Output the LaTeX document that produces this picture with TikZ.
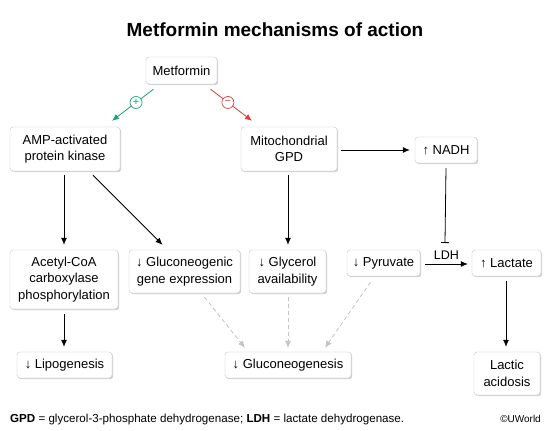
\documentclass[tikz,border=0pt]{standalone}
\usepackage{fontspec}
\setmainfont{Liberation Sans}
\usetikzlibrary{arrows.meta,shadows,calc}
\definecolor{posgreen}{HTML}{17A673}
\definecolor{negred}{HTML}{E8373E}
\definecolor{dashgray}{HTML}{C4C4C4}
\begin{document}
\begin{tikzpicture}[x=1pt,y=-1pt,
  box/.style={draw=gray!45, fill=white, rounded corners=3pt, align=center, inner sep=1pt,
    font=\fontsize{13}{16.3}\selectfont,
    drop shadow={shadow xshift=1.2pt, shadow yshift=-1.2pt, opacity=0.35, fill=gray}},
  arr/.style={-{Latex[length=7pt,width=6pt]}, line width=0.8pt, black},
  grayarr/.style={-{Latex[length=7pt,width=6pt]}, dashgray, dashed, dash pattern=on 4pt off 3pt, line width=0.8pt},
  sign/.style={circle, fill=white, draw, line width=0.7pt, inner sep=0pt, minimum size=12pt, font=\fontsize{11}{11}\selectfont}]
\useasboundingbox[fill=white] (0,0) rectangle (550,431);
\node[font=\bfseries\fontsize{19}{22}\selectfont] (title) at (275,30) {Metformin mechanisms of action};

\node[box, minimum width=71pt, minimum height=27pt] (met) at (181.5,70.5) {Metformin};
\node[box, minimum width=110pt, minimum height=44pt] (ampk) at (65,149) {AMP-activated\\protein kinase};
\node[box, minimum width=96pt, minimum height=44pt] (gpd) at (289,149) {Mitochondrial\\GPD};
\node[box, minimum width=62pt, minimum height=26pt] (nadh) at (446,150) {↑ NADH};
\node[box, minimum width=108pt, minimum height=59pt] (acc) at (64,279.5) {Acetyl-CoA\\carboxylase\\phosphorylation};
\node[box, minimum width=111pt, minimum height=43pt] (gene) at (184.5,271.5) {↓ Gluconeogenic\\gene expression};
\node[box, minimum width=77pt, minimum height=43pt] (gly) at (287.5,271.5) {↓ Glycerol\\availability};
\node[box, minimum width=73pt, minimum height=26pt] (pyr) at (383.5,263) {↓ Pyruvate};
\node[box, minimum width=69pt, minimum height=26pt] (lac) at (506.5,263) {↑ Lactate};
\node[box, minimum width=95pt, minimum height=26pt] (lip) at (64.5,365) {↓ Lipogenesis};
\node[box, minimum width=126pt, minimum height=26pt] (glu) at (288,365) {↓ Gluconeogenesis};
\node[box, minimum width=66pt, minimum height=43pt] (aci) at (507,373.5) {Lactic\\acidosis};

% Metformin effects
\draw[arr, posgreen] ($(met.south)+(-28,5)$) -- ($(ampk.north)+(47,-6)$)
  node[sign, draw=posgreen, text=posgreen, pos=0.42] {+};
\draw[arr, negred] ($(met.south)+(29,5)$) -- ($(gpd.north)+(-37,-6)$)
  node[sign, draw=negred, text=negred, pos=0.42] {−};

% black arrows
\draw[arr] ($(ampk.south)+(-1,4)$) -- ($(acc.north)+(0,-5)$);
\draw[arr] ($(ampk.south)+(28,4)$) -- ($(gene.north)+(-22,-5)$);
\draw[arr] ($(gpd.south)+(-1,4)$) -- ($(gly.north)+(0.5,-5)$);
\draw[arr] ($(gpd.east)+(4,1)$) -- ($(nadh.west)+(-5,0)$);
\draw[arr] ($(acc.south)+(0,5)$) -- ($(lip.north)+(-0.5,-5)$);
\draw[arr] ($(pyr.east)+(5,1)$) -- node[above=1pt, font=\fontsize{12.5}{14}\selectfont] (ldh) {LDH} ($(lac.west)+(-4,1)$);
\draw[arr] ($(lac.south)+(-0.5,5)$) -- ($(aci.north)+(-1,-5)$);
\draw[-{Bar[width=8pt]}, line width=0.8pt] ($(nadh.south)+(0,5)$) -- ($(pyr.east)!0.5!(lac.west)+(-1,-20)$);

% dashed gray arrows
\draw[grayarr] ($(gene.south)+(20,4)$) -- ($(glu.north)+(-43,-4)$);
\draw[grayarr] ($(gly.south)+(0.5,4)$) -- ($(glu.north)+(0,-4)$);
\draw[grayarr] ($(pyr.south)+(-13,6)$) -- ($(glu.north)+(37,-4)$);

% footer
\node[anchor=west, font=\fontsize{11.6}{13}\selectfont, inner sep=0pt] (foot) at (10,419)
  {\textbf{GPD} = glycerol-3-phosphate dehydrogenase; \textbf{LDH} = lactate dehydrogenase.};
\node[anchor=east, font=\fontsize{10}{12}\selectfont, inner sep=0pt] (copy) at (541,419) {©UWorld};
\end{tikzpicture}
\end{document}
